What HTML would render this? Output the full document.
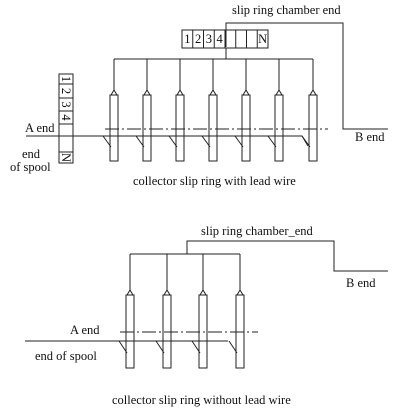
<!DOCTYPE html>
<html><head><meta charset="utf-8">
<style>
html,body{margin:0;padding:0;background:#fff;width:400px;height:414px;overflow:hidden}
svg{display:block}
text{font-family:"Liberation Serif",serif;font-size:12.5px;fill:#111}
</style></head>
<body>
<svg id="d" width="400" height="414" viewBox="0 0 400 414">
<g stroke="#222" stroke-width="1" fill="none" id="top">
  <polyline points="226,47 226,23 343,23 343,129 388,129"/>
  <rect x="182" y="30" width="86" height="18"/>
  <line x1="226" y1="48" x2="226" y2="59"/>
  <line x1="114" y1="59" x2="313" y2="59"/>
  <rect x="59" y="74" width="14" height="89"/>
  <line x1="59" y1="84" x2="73" y2="84"/><line x1="59" y1="98" x2="73" y2="98"/>
  <line x1="59" y1="111" x2="73" y2="111"/><line x1="59" y1="124" x2="73" y2="124"/>
  <line x1="59" y1="152" x2="73" y2="152"/>
  <line x1="105" y1="129" x2="328" y2="129" stroke-dasharray="14,3,2,3"/>
  <polyline points="26,136 302,136 308,146"/>
</g>
<g stroke="#222" stroke-width="1" fill="none" id="bot">
  <polyline points="187,254 187,241 334,241 334,271 388,271"/>
  <line x1="130" y1="254" x2="240" y2="254"/>
  <line x1="120" y1="332" x2="258" y2="332" stroke-dasharray="14,3,2,3"/>
  <line x1="25" y1="341" x2="228" y2="341"/>
</g>
<g id="txt">
  <text x="232" y="14">slip ring chamber end</text>
  <text x="25" y="132">A end</text>
  <text x="355" y="141">B  end</text>
  <text x="22" y="158">end</text>
  <text x="10" y="171">of spool</text>
  <text x="133" y="185">collector slip ring with  lead wire</text>
  <text x="201" y="235">slip ring chamber_end</text>
  <text x="346" y="287">B  end</text>
  <text x="70" y="334">A end</text>
  <text x="35" y="360">end of spool</text>
  <text x="112" y="404">collector slip ring without lead wire</text>
</g>
</svg>
<script>
const NS="http://www.w3.org/2000/svg";
const topRods=[114,147,180,213,246,279,313];
const botRods=[130,167,203,240];
const topLabels=["1","2","3","4","","","","N"];
const leftLabels=[["1",79],["2",91],["3",104.5],["4",117.5],["N",157.5]];
function mk(tag,attrs,parent){const e=document.createElementNS(NS,tag);for(const k in attrs)e.setAttribute(k,attrs[k]);parent.appendChild(e);return e;}
function rod(g,cx,busY,topY,botY,slY0,slY1){
  const s={stroke:"#222","stroke-width":1,fill:"none"};
  mk("line",Object.assign({x1:cx,y1:busY,x2:cx,y2:topY},s),g);
  mk("path",Object.assign({d:`M${cx-3},${topY+5} L${cx},${topY} L${cx+3},${topY+5} Z`},s),g);
  const r=mk("rect",Object.assign({x:cx-4,y:topY+5,width:8,height:botY-topY-5},s),g);
  
  
  mk("line",Object.assign({x1:cx-11,y1:slY0,x2:cx-3,y2:slY1},s),g);
}
const gt=document.getElementById("top"),gb=document.getElementById("bot");
topRods.forEach(c=>rod(gt,c,59,90,161,136,147));
botRods.forEach(c=>rod(gb,c,254,290,368,341,353));
const tx=document.getElementById("txt");
topLabels.forEach((t,i)=>{
  const x=182+i*10.75;
  if(i>0) mk("line",{x1:x,y1:30,x2:x,y2:48,stroke:"#222"},gt);
  if(t){const e=mk("text",{x:x+5.4,y:43,"text-anchor":"middle","font-size":"11"},tx);e.textContent=t;
  
  }
});
leftLabels.forEach(([t,y])=>{
  const e=mk("text",{x:0,y:0,"text-anchor":"middle","font-size":"11",transform:`translate(66,${y}) rotate(90) translate(0,4)`},tx);
  e.textContent=t;
  
  
});
</script>
</body></html>
